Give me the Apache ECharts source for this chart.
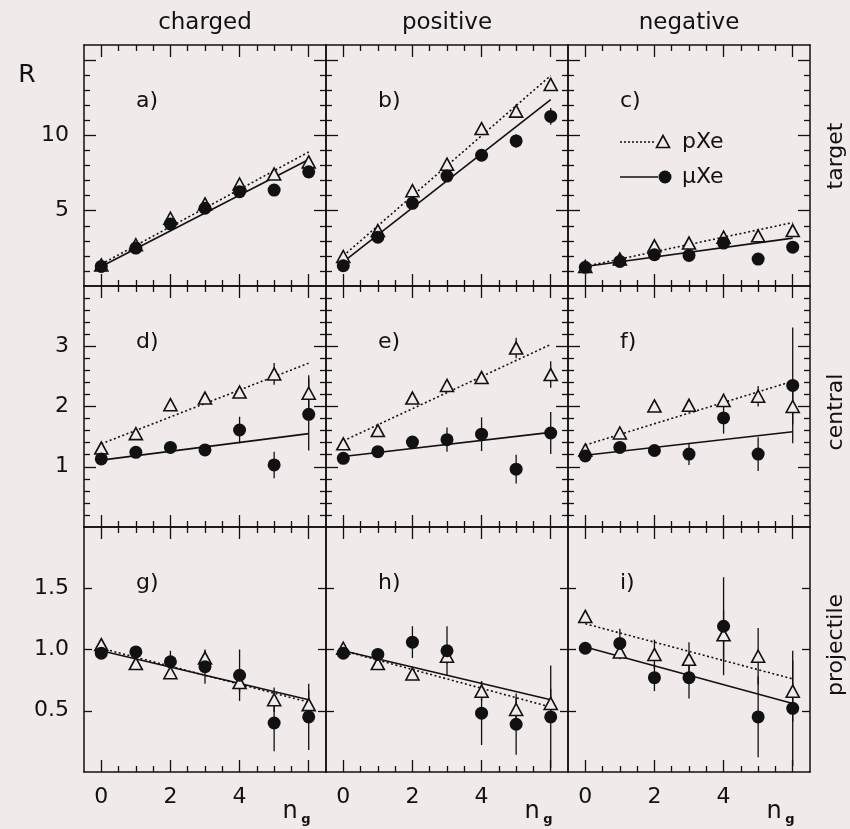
<!DOCTYPE html>
<html><head><meta charset="utf-8">
<script src="https://cdn.jsdelivr.net/npm/echarts@6/dist/echarts.min.js"></script>
<style>html,body{margin:0;padding:0;background:#f0eaea}#c{width:850px;height:829px}</style>
</head><body><div id="c"></div>
<script>
// ---------- data ----------
const ng = [0, 1, 2, 3, 4, 5, 6];
const fitX = [0, 6];
const columnTitles = ['charged', 'positive', 'negative'];
const rowTitles = ['target', 'central', 'projectile'];
const panelTags = ['a)', 'b)', 'c)', 'd)', 'e)', 'f)', 'g)', 'h)', 'i)'];
const legendNames = ['pXe', 'μXe'];

// tick values
const xMajorTicks = [0, 2, 4, 6];
const xMinorTicks = [0.5, 1, 1.5, 2.5, 3, 3.5, 4.5, 5, 5.5];
const xTickLabels = [0, 2, 4];
const rowYMax = [16, 4, 2];
const rowYMajorTicks = [[5, 10, 15], [1, 2, 3], [0.5, 1.0, 1.5]];
const rowYMinorTicks = [
  [1, 2, 3, 4, 6, 7, 8, 9, 11, 12, 13, 14],
  [0.2, 0.4, 0.6, 0.8, 1.2, 1.4, 1.6, 1.8, 2.2, 2.4, 2.6, 2.8, 3.2, 3.4, 3.6, 3.8],
  []
];
const rowYTickLabels = [[5, 10], [1, 2, 3], [0.5, 1.0, 1.5]];

// a) target, charged
const aP = [1.40, 2.74, 4.50, 5.45, 6.77, 7.43, 8.24];
const aPErr = [0.10, 0.12, 0.15, 0.18, 0.22, 0.28, 0.35];
const aMu = [1.30, 2.52, 4.12, 5.16, 6.26, 6.37, 7.58];
const aMuErr = [0.15, 0.20, 0.25, 0.25, 0.30, 0.35, 0.45];
const aPFit = [1.45, 8.9];
const aMuFit = [1.30, 8.4];
// b) target, positive
const bP = [1.96, 3.68, 6.33, 8.09, 10.45, 11.61, 13.38];
const bPErr = [0.10, 0.15, 0.20, 0.25, 0.30, 0.35, 0.40];
const bMu = [1.35, 3.24, 5.49, 7.30, 8.68, 9.63, 11.26];
const bMuErr = [0.15, 0.20, 0.25, 0.30, 0.40, 0.45, 0.55];
const bPFit = [2.0, 13.97];
const bMuFit = [1.6, 12.37];
// c) target, negative
const cP = [1.30, 1.79, 2.67, 2.85, 3.24, 3.33, 3.68];
const cPErr = [0.08, 0.10, 0.12, 0.15, 0.18, 0.22, 0.25];
const cMu = [1.24, 1.63, 2.08, 2.03, 2.85, 1.79, 2.58];
const cMuErr = [0.10, 0.12, 0.15, 0.18, 0.30, 0.30, 0.35];
const cPFit = [1.30, 4.21];
const cMuFit = [1.30, 3.18];
// d) central, charged
const dP = [1.31, 1.55, 2.03, 2.14, 2.24, 2.54, 2.22];
const dPErr = [0.04, 0.05, 0.06, 0.07, 0.08, 0.18, 0.30];
const dMu = [1.13, 1.24, 1.32, 1.28, 1.61, 1.03, 1.87];
const dMuErr = [0.04, 0.05, 0.06, 0.07, 0.22, 0.22, 0.60];
const dPFit = [1.38, 2.72];
const dMuFit = [1.11, 1.55];
// e) central, positive
const eP = [1.38, 1.60, 2.14, 2.35, 2.48, 2.97, 2.53];
const ePErr = [0.04, 0.05, 0.06, 0.07, 0.10, 0.17, 0.22];
const eMu = [1.14, 1.25, 1.41, 1.45, 1.54, 0.96, 1.56];
const eMuErr = [0.04, 0.05, 0.06, 0.20, 0.28, 0.24, 0.35];
const ePFit = [1.43, 3.03];
const eMuFit = [1.17, 1.57];
// f) central, negative
const fP = [1.28, 1.56, 2.01, 2.02, 2.10, 2.17, 2.00];
const fPErr = [0.04, 0.05, 0.06, 0.07, 0.12, 0.17, 0.30];
const fMu = [1.18, 1.32, 1.27, 1.21, 1.81, 1.21, 2.35];
const fMuErr = [0.04, 0.05, 0.06, 0.18, 0.26, 0.28, 0.96];
const fPFit = [1.36, 2.42];
const fMuFit = [1.19, 1.58];
// g) projectile, charged
const gP = [1.04, 0.885, 0.81, 0.93, 0.73, 0.59, 0.55];
const gPErr = [0.02, 0.03, 0.04, 0.06, 0.08, 0.10, 0.12];
const gMu = [0.97, 0.98, 0.90, 0.86, 0.79, 0.40, 0.45];
const gMuErr = [0.03, 0.04, 0.09, 0.14, 0.21, 0.23, 0.27];
const gPFit = [1.01, 0.57];
const gMuFit = [0.99, 0.59];
// h) projectile, positive
const hP = [1.01, 0.885, 0.80, 0.945, 0.66, 0.51, 0.56];
const hPErr = [0.02, 0.03, 0.04, 0.06, 0.08, 0.10, 0.12];
const hMu = [0.97, 0.96, 1.06, 0.99, 0.48, 0.39, 0.45];
const hMuErr = [0.03, 0.05, 0.13, 0.20, 0.26, 0.25, 0.42];
const hPFit = [0.99, 0.53];
const hMuFit = [0.99, 0.59];
// i) projectile, negative
const iP = [1.27, 0.98, 0.96, 0.92, 1.12, 0.945, 0.66];
const iPErr = [0.04, 0.06, 0.12, 0.14, 0.20, 0.23, 0.25];
const iMu = [1.01, 1.05, 0.77, 0.77, 1.19, 0.45, 0.52];
const iMuErr = [0.03, 0.12, 0.11, 0.17, 0.40, 0.33, 0.47];
const iPFit = [1.21, 0.76];
const iMuFit = [1.02, 0.56];

// ---------- layout ----------
const BG = '#f0eaea';
const INK = '#111';
const FONT = 'DejaVu Sans';
const colLeft = [84, 326, 568];
const colWidth = 242;
const rowTop = [45, 286, 527];
const rowHeight = [241, 241, 245];

const panels = [
  [aP, aPErr, aMu, aMuErr, aPFit, aMuFit],
  [bP, bPErr, bMu, bMuErr, bPFit, bMuFit],
  [cP, cPErr, cMu, cMuErr, cPFit, cMuFit],
  [dP, dPErr, dMu, dMuErr, dPFit, dMuFit],
  [eP, ePErr, eMu, eMuErr, ePFit, eMuFit],
  [fP, fPErr, fMu, fMuErr, fPFit, fMuFit],
  [gP, gPErr, gMu, gMuErr, gPFit, gMuFit],
  [hP, hPErr, hMu, hMuErr, hPFit, hMuFit],
  [iP, iPErr, iMu, iMuErr, iPFit, iMuFit]
];

const grids = [], xAxes = [], yAxes = [], series = [], graphics = [];

function xAx(g, pos, ticks, len, line, labels) {
  return {
    type: 'value', gridIndex: g, position: pos, min: -0.5, max: 6.5,
    splitLine: { show: false },
    axisLine: { show: line, onZero: false, lineStyle: { color: INK, width: 1.5 } },
    axisTick: { show: true, inside: true, length: len, customValues: ticks, lineStyle: { color: INK, width: 1.3 } },
    axisLabel: labels ? { show: true, customValues: labels, color: INK, fontSize: 22, fontFamily: FONT, margin: 14 } : { show: false }
  };
}
function yAx(g, r, pos, ticks, len, line, labels) {
  return {
    type: 'value', gridIndex: g, position: pos, min: 0, max: rowYMax[r],
    splitLine: { show: false },
    axisLine: { show: line, onZero: false, lineStyle: { color: INK, width: 1.5 } },
    axisTick: { show: ticks.length > 0, inside: true, length: len, customValues: ticks.length ? ticks : undefined, lineStyle: { color: INK, width: 1.3 } },
    axisLabel: labels ? {
      show: true, customValues: labels, color: INK, fontSize: 22, fontFamily: FONT, margin: 15,
      formatter: v => (r === 2 ? Number(v).toFixed(1) : String(v))
    } : { show: false }
  };
}

for (let r = 0; r < 3; r++) {
  for (let c = 0; c < 3; c++) {
    const g = r * 3 + c;
    grids.push({ left: colLeft[c], top: rowTop[r], width: colWidth, height: rowHeight[r] });
    const majLen = r === 2 ? 8 : 12;
    xAxes.push(xAx(g, 'bottom', xMajorTicks, 12, true, r === 2 ? xTickLabels : null));
    xAxes.push(xAx(g, 'bottom', xMinorTicks, 6, false, null));
    xAxes.push(xAx(g, 'top', xMajorTicks, 12, true, null));
    xAxes.push(xAx(g, 'top', xMinorTicks, 6, false, null));
    yAxes.push(yAx(g, r, 'left', rowYMajorTicks[r], majLen, true, c === 0 ? rowYTickLabels[r] : null));
    yAxes.push(yAx(g, r, 'left', rowYMinorTicks[r], 6, false, null));
    yAxes.push(yAx(g, r, 'right', rowYMajorTicks[r], majLen, true, null));
    yAxes.push(yAx(g, r, 'right', rowYMinorTicks[r], 6, false, null));

    const [p, pe, mu, mue, pfit, mufit] = panels[g];
    const xi = g * 4, yi = g * 4;
    const errRender = (params, api) => {
      const x = api.value(0), y = api.value(1), e = api.value(2);
      const p1 = api.coord([x, y - e]), p2 = api.coord([x, y + e]);
      return { type: 'line', shape: { x1: p1[0], y1: p1[1], x2: p2[0], y2: p2[1] }, style: { stroke: INK, lineWidth: 1.3 } };
    };
    series.push({
      type: 'line', xAxisIndex: xi, yAxisIndex: yi, data: fitX.map((x, k) => [x, pfit[k]]),
      symbol: 'none', lineStyle: { color: INK, width: 1.6, type: [2, 2.5] }, silent: true, z: 2
    });
    series.push({
      type: 'line', xAxisIndex: xi, yAxisIndex: yi, data: fitX.map((x, k) => [x, mufit[k]]),
      symbol: 'none', lineStyle: { color: INK, width: 1.6, type: 'solid' }, silent: true, z: 2
    });
    series.push({
      type: 'custom', xAxisIndex: xi, yAxisIndex: yi, renderItem: errRender, encode: { x: 0, y: 1 },
      data: ng.map((x, k) => [x, p[k], pe[k]]), z: 3, silent: true
    });
    series.push({
      type: 'custom', xAxisIndex: xi, yAxisIndex: yi, renderItem: errRender, encode: { x: 0, y: 1 },
      data: ng.map((x, k) => [x, mu[k], mue[k]]), z: 3, silent: true
    });
    series.push({
      name: legendNames[0], type: 'scatter', xAxisIndex: xi, yAxisIndex: yi, data: ng.map((x, k) => [x, p[k]]),
      symbol: 'triangle', symbolSize: [13, 12],
      itemStyle: { color: BG, borderColor: INK, borderWidth: 1.6, opacity: 1 }, z: 4, silent: true
    });
    series.push({
      name: legendNames[1], type: 'scatter', xAxisIndex: xi, yAxisIndex: yi, data: ng.map((x, k) => [x, mu[k]]),
      symbol: 'circle', symbolSize: 13,
      itemStyle: { color: INK, opacity: 1 }, z: 5, silent: true
    });

    graphics.push({
      type: 'text', x: colLeft[c] + 52, y: rowTop[r] + 56,
      style: { text: panelTags[g], font: '22px "DejaVu Sans"', fill: INK, textAlign: 'left', textVerticalAlign: 'middle' }
    });
  }
}

// column titles
columnTitles.forEach((t, c) => graphics.push({
  type: 'text', x: colLeft[c] + colWidth / 2, y: 23,
  style: { text: t, font: '23px "DejaVu Sans"', fill: INK, textAlign: 'center', textVerticalAlign: 'middle' }
}));
// row titles (rotated)
const rowCenters = [156, 412, 645];
rowTitles.forEach((t, r) => graphics.push({
  type: 'text', x: 836, y: rowCenters[r], rotation: Math.PI / 2,
  style: { text: t, font: '22px "DejaVu Sans"', fill: INK, textAlign: 'center', textVerticalAlign: 'middle' }
}));
// R label
graphics.push({ type: 'text', x: 27, y: 75, style: { text: 'R', font: '25px "DejaVu Sans"', fill: INK, textAlign: 'center', textVerticalAlign: 'middle' } });
// n_g labels
colLeft.forEach(l => {
  graphics.push({ type: 'text', x: l + 206, y: 812, style: { text: 'n', font: '24px "DejaVu Sans"', fill: INK, textAlign: 'center', textVerticalAlign: 'middle' } });
  graphics.push({ type: 'text', x: l + 222, y: 820, style: { text: 'g', font: 'bold 13px "DejaVu Sans"', fill: INK, textAlign: 'center', textVerticalAlign: 'middle' } });
});
// legend (panel c)
graphics.push({ type: 'line', shape: { x1: 620, y1: 142, x2: 655, y2: 142 }, style: { stroke: INK, lineWidth: 1.5, lineDash: [2, 2] } });
graphics.push({ type: 'polygon', shape: { points: [[663, 135.5], [669.5, 147.5], [656.5, 147.5]] }, style: { fill: BG, stroke: INK, lineWidth: 1.6 } });
graphics.push({ type: 'text', x: 682, y: 142, style: { text: legendNames[0], font: '22px "DejaVu Sans"', fill: INK, textAlign: 'left', textVerticalAlign: 'middle' } });
graphics.push({ type: 'line', shape: { x1: 620, y1: 177, x2: 658, y2: 177 }, style: { stroke: INK, lineWidth: 1.6 } });
graphics.push({ type: 'circle', shape: { cx: 665, cy: 177, r: 6.5 }, style: { fill: INK } });
graphics.push({ type: 'text', x: 682, y: 177, style: { text: legendNames[1], font: '22px "DejaVu Sans"', fill: INK, textAlign: 'left', textVerticalAlign: 'middle' } });

const chart = echarts.init(document.getElementById('c'), null, { renderer: 'canvas' });
chart.setOption({
  backgroundColor: BG,
  animation: false,
  textStyle: { fontFamily: FONT },
  grid: grids, xAxis: xAxes, yAxis: yAxes, series: series,
  graphic: graphics
});
</script></body></html>
